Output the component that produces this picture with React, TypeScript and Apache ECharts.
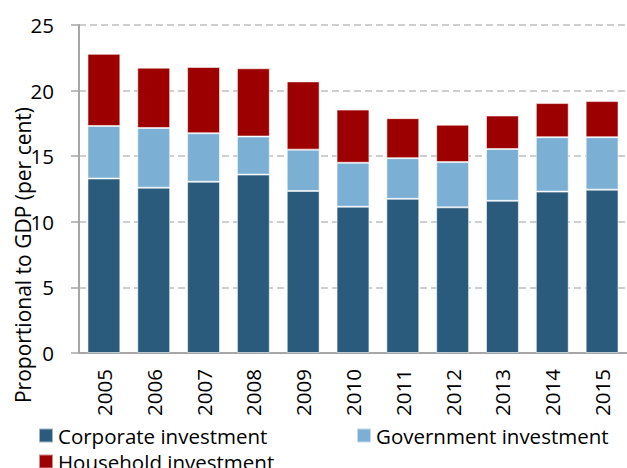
import React, { useEffect, useRef } from "react";
import * as echarts from "echarts";

const years = ["2005", "2006", "2007", "2008", "2009", "2010", "2011", "2012", "2013", "2014", "2015"];
const corporate = [13.3, 12.6, 13.05, 13.6, 12.35, 11.15, 11.75, 11.1, 11.6, 12.3, 12.45];
const government = [4.0, 4.55, 3.7, 2.9, 3.15, 3.35, 3.1, 3.45, 3.95, 4.15, 4.0];
const household = [5.5, 4.6, 5.05, 5.2, 5.2, 4.05, 3.05, 2.85, 2.55, 2.6, 2.75];
const yTicks = { min: 0, max: 25, interval: 5 };
const yTitle = "Proportional to GDP (per cent)";

const FONT = "Open Sans";

export default function App() {
  const ref = useRef<HTMLDivElement>(null);
  useEffect(() => {
    const chart = echarts.init(ref.current!, null, { renderer: "svg" });
    const border = { borderColor: "rgba(255,255,255,0.55)", borderWidth: 1 };
    const legendText = { fontSize: 20.5, lineHeight: 20, color: "#000", fontFamily: FONT };
    chart.setOption({
      animation: false,
      textStyle: { fontFamily: FONT },
      grid: { left: 79, top: 25, right: -4, bottom: 115, containLabel: false },
      xAxis: {
        type: "category",
        data: years,
        axisLine: { lineStyle: { color: "#a6a6a6", width: 2 } },
        axisTick: { show: false },
        axisLabel: { rotate: 90, color: "#000", fontSize: 20.5, fontFamily: FONT, margin: 16 },
      },
      yAxis: {
        type: "value",
        min: yTicks.min,
        max: yTicks.max,
        interval: yTicks.interval,
        axisLine: { show: true, lineStyle: { color: "#a6a6a6", width: 2 } },
        axisTick: { show: true, length: 8, lineStyle: { color: "#a6a6a6", width: 1.5 } },
        axisLabel: { color: "#000", fontSize: 20.5, fontFamily: FONT, margin: 25 },
        splitLine: { lineStyle: { color: "#bfbfbf", width: 1.5, type: [7, 4] } },
      },
      legend: [
        {
          orient: "vertical",
          left: 38,
          top: 425,
          padding: 0,
          itemWidth: 14,
          itemHeight: 14,
          itemGap: 5,
          height: 80,
          icon: "rect",
          data: ["Corporate investment", "Household investment"],
          textStyle: legendText,
        },
        {
          orient: "horizontal",
          left: 356,
          top: 425,
          padding: 0,
          itemWidth: 14,
          itemHeight: 14,
          icon: "rect",
          data: ["Government investment"],
          textStyle: legendText,
        },
      ],
      graphic: [
        {
          type: "text",
          x: 23,
          y: 255,
          rotation: Math.PI / 2,
          style: {
            text: yTitle,
            fontSize: 21,
            fontFamily: FONT,
            fill: "#000",
            align: "center",
            verticalAlign: "middle",
          },
        },
      ],
      series: [
        {
          name: "Corporate investment",
          type: "bar",
          stack: "inv",
          data: corporate,
          barCategoryGap: "34%",
          itemStyle: { color: "#2a5b7d", ...border },
        },
        {
          name: "Government investment",
          type: "bar",
          stack: "inv",
          data: government,
          itemStyle: { color: "#7bafd4", ...border },
        },
        {
          name: "Household investment",
          type: "bar",
          stack: "inv",
          data: household,
          itemStyle: { color: "#9c0000", ...border },
        },
      ],
    });
    return () => chart.dispose();
  }, []);
  return <div ref={ref} style={{ width: 627, height: 468, position: "absolute", left: 0, top: 0 }} />;
}
